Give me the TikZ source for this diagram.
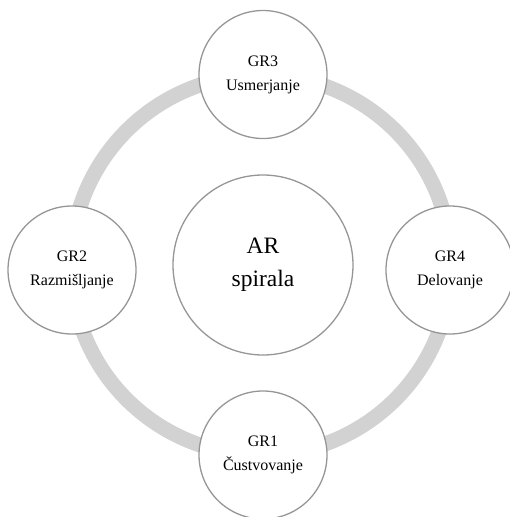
\documentclass[tikz,border=0pt]{standalone}
\usepackage{fontspec}
\setmainfont{Liberation Serif}
\definecolor{ringgray}{RGB}{210,210,210}
\definecolor{edgegray}{RGB}{150,150,150}
\begin{document}
\begin{tikzpicture}[x=1pt,y=1pt,
  smallc/.style={circle,draw=edgegray,line width=1.3pt,fill=white,minimum size=128pt,inner sep=0pt,align=center,font=\fontsize{16}{24}\selectfont},
  bigc/.style={circle,draw=edgegray,line width=1.3pt,fill=white,minimum size=180pt,inner sep=0pt,align=center,font=\fontsize{23.5}{33}\selectfont}]
\useasboundingbox (0,0) rectangle (509,-517);
\coordinate (ctr) at (261,-265);
\draw[ringgray,line width=15pt] (ctr) circle (190);
\node[bigc] (ar) at (263,-265) {AR\\spirala};
\node[smallc] (gr3) at (263,-74.5) {GR3\\Usmerjanje};
\node[smallc] (gr2) at (72,-270) {GR2\\Razmišljanje};
\node[smallc] (gr4) at (450,-270) {GR4\\Delovanje};
\node[smallc] (gr1) at (263,-455) {GR1\\Čustvovanje};
\end{tikzpicture}
\end{document}
